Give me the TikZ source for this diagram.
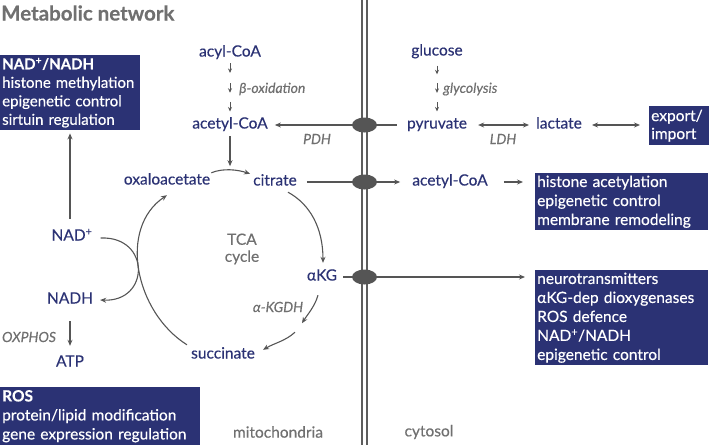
\documentclass[tikz,border=0pt]{standalone}
\usepackage{fontspec}
\setmainfont{Lato}[FakeBold=0.4]
\usetikzlibrary{arrows.meta,calc,shapes.geometric}
\definecolor{navy}{HTML}{2B3274}
\definecolor{lgray}{HTML}{555555}
\definecolor{tgray}{HTML}{707070}
\tikzset{
  met/.style={text=navy, font=\fontsize{15.5}{18}\selectfont, inner sep=2pt, text height=10.5pt, text depth=3.5pt},
  lab/.style={text=tgray, font=\fontsize{14}{16}\selectfont\itshape, inner sep=1pt},
  region/.style={text=tgray, font=\fontsize{15.5}{18}\selectfont, inner sep=1pt},
  conn/.style={draw=lgray, line width=1.1pt, -{Stealth[length=6pt,width=5pt]}},
  dconn/.style={draw=lgray, line width=1.1pt, {Stealth[length=6pt,width=5pt]}-{Stealth[length=6pt,width=5pt]}},
  smallarr/.style={draw=lgray, line width=0.8pt, -{Stealth[length=4.5pt,width=4pt]}},
  infobox/.style={fill=navy, text=white, font=\fontsize{15.5}{19}\selectfont, align=left, anchor=north west, inner xsep=2pt, inner ysep=0pt},
  chan/.style={ellipse, fill=lgray, minimum width=25pt, minimum height=15pt, inner sep=0pt},
  memb/.style={draw=lgray!95, line width=2pt},
}
\begin{document}
\begin{tikzpicture}[x=1pt,y=-1pt]
\useasboundingbox (0,0) rectangle (709,445);
% title
\node[anchor=west, text=tgray, font=\fontsize{20.5}{24}\selectfont\bfseries, inner sep=0pt] (title) at (1,13) {Metabolic network};
% membrane
\coordinate (m1t) at (362,0); \coordinate (m1b) at (362,445);
\coordinate (m2t) at (367,0); \coordinate (m2b) at (367,445);
\draw[memb] (m1t) -- (m1b);
\draw[memb] (m2t) -- (m2b);
% info boxes
\node[infobox, minimum width=140pt, minimum height=75pt, text width=136pt, font=\fontsize{15}{18.5}\selectfont] (box1) at (0,55)
  {{\bfseries NAD\textsuperscript{+}/NADH}\\histone methylation\\epigenetic control\\sirtuin regulation};
\node[infobox, minimum width=60pt, minimum height=39pt, text width=56pt, font=\fontsize{15.5}{18}\selectfont] (boxexp) at (649,106)
  {export/\\import};
\node[infobox, minimum width=173pt, minimum height=57pt, text width=169pt] (box2) at (535,173)
  {histone acetylation\\epigenetic control\\membrane remodeling};
\node[infobox, minimum width=173pt, minimum height=95pt, text width=169pt] (box3) at (535,270)
  {neurotransmitters\\αKG-dep dioxygenases\\ROS defence\\NAD\textsuperscript{+}/NADH\\epigenetic control};
\node[infobox, minimum width=200pt, minimum height=58pt, text width=196pt] (box4) at (0,387)
  {{\bfseries ROS}\\protein/lipid modification\\gene expression regulation};
% metabolites
\node[met] (acylCoA) at (230,53) {acyl-CoA};
\node[met] (acetylCoA) at (230,125) {acetyl-CoA};
\node[met] (oxaloacetate) at (167,181) {oxaloacetate};
\node[met] (citrate) at (275,182) {citrate};
\node[met] (aKG) at (322,277) {αKG};
\node[met] (succinate) at (223,355) {succinate};
\node[met] (NADp) at (72,237) {NAD\textsuperscript{+}};
\node[met] (NADH) at (70,300) {NADH};
\node[met] (ATP) at (70,363) {ATP};
\node[met] (glucose) at (437,52) {glucose};
\node[met] (pyruvate) at (437,125) {pyruvate};
\node[met] (lactate) at (559,125) {lactate};
\node[met] (acetylCoAc) at (450,182) {acetyl-CoA};
% labels
\node[lab, anchor=west] (betaox) at (238,89) {β-oxidation};
\node[lab, anchor=west] (glyc) at (442,89) {glycolysis};
\node[lab] (PDH) at (317,139) {PDH};
\node[lab] (LDH) at (503,139) {LDH};
\node[lab] (KGDH) at (278,307) {α-KGDH};
\node[lab] (OXPHOS) at (29,337) {OXPHOS};
\node[region, align=center, font=\fontsize{15.5}{17}\selectfont] (TCA) at (242,249) {TCA\\cycle};
\node[region] (mito) at (278,432) {mitochondria};
\node[region] (cyto) at (429,432) {cytosol};
% small step arrows
\draw[smallarr] ($(acylCoA.south)!0.02!(acetylCoA.north)$) -- ($(acylCoA.south)!0.2!(acetylCoA.north)$);
\draw[smallarr] ($(acylCoA.south)!0.39!(acetylCoA.north)$) -- ($(acylCoA.south)!0.57!(acetylCoA.north)$);
\draw[smallarr] ($(acylCoA.south)!0.74!(acetylCoA.north)$) -- ($(acylCoA.south)!0.92!(acetylCoA.north)$);
\draw[smallarr] ($(glucose.south)!0.08!(pyruvate.north)$) -- ($(glucose.south)!0.24!(pyruvate.north)$);
\draw[smallarr] ($(glucose.south)!0.4!(pyruvate.north)$) -- ($(glucose.south)!0.58!(pyruvate.north)$);
\draw[smallarr] ($(glucose.south)!0.75!(pyruvate.north)$) -- ($(glucose.south)!0.92!(pyruvate.north)$);
% TCA cycle
\draw[conn, shorten <=2pt] (acetylCoA.south) -- ($(acetylCoA.south)+(0,32)$);
\draw[conn] ($(oxaloacetate.north east)+(-1,1)$) .. controls +(12,-5) and +(-12,-4) .. ($(citrate.north west)+(-1,1)$);
\draw[conn] ($(citrate.south)+(13,1)$) .. controls +(22,12) and +(0,-35) .. ($(aKG.north)+(1,-5)$);
\draw[conn] ($(aKG.south)+(-4,9)$) .. controls +(-3,11) and +(5,-8) .. ($(aKG.south)+(-20,37)$);
\draw[conn] ($(aKG.south)+(-27,46)$) .. controls +(-10,9) and +(12,-7) .. ($(succinate.north east)+(6,4)$);
\draw[conn] ($(succinate.north west)+(-2,-1)$) .. controls (135,312) and (118,228) .. ($(oxaloacetate.south)+(0,5)$);
% NAD
\draw[conn] ($(NADp.east)+(6,1)$) .. controls +(50,-2) and +(50,2) .. ($(NADH.east)+(5,0)$);
\draw[conn, shorten <=9pt, shorten >=3pt] ([xshift=-2pt]NADp.north) -- ([xshift=-2pt]NADp.north |- box1.south);
\draw[conn, shorten <=12pt, shorten >=8pt] (NADH.south) -- (ATP.north);
% cross-membrane connections
\draw[conn, shorten <=8pt, shorten >=5pt] (pyruvate.west) -- (acetylCoA.east);
\draw[conn, shorten <=8pt, shorten >=10pt] (citrate.east) -- (acetylCoAc.west);
\draw[conn, shorten <=4pt, shorten >=10pt] (aKG.east) -- (aKG.east -| box3.west);
\draw[conn, shorten <=14pt, shorten >=12pt] (acetylCoAc.east) -- (acetylCoAc.east -| box2.west);
\draw[dconn, shorten <=9pt, shorten >=5pt] (pyruvate.east) -- (lactate.west);
\draw[dconn, shorten <=8pt, shorten >=9pt] (lactate.east) -- (lactate.east -| boxexp.west);
% channels
\node[chan] (ch1) at (364.5,125) {};
\node[chan] (ch2) at (364.5,182) {};
\node[chan] (ch3) at (364.5,277) {};
\end{tikzpicture}
\end{document}
